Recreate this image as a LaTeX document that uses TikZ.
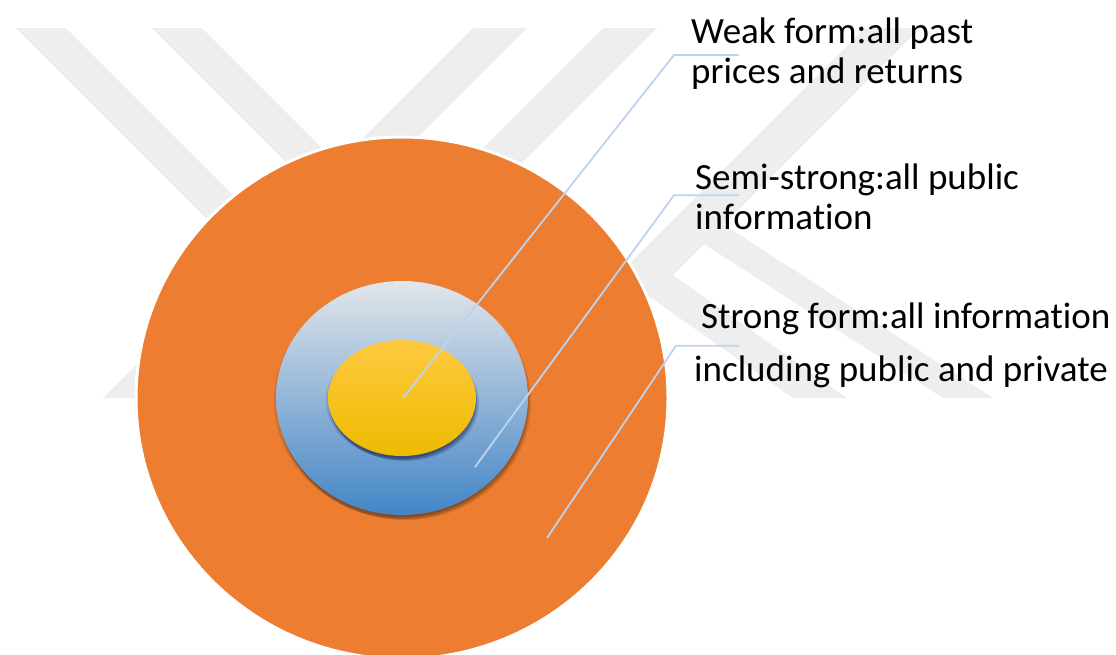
\documentclass[tikz,border=0pt]{standalone}
\usepackage{fontspec}
\setmainfont{Carlito}[Ligatures=NoCommon]
\usetikzlibrary{shadows, positioning}

\definecolor{wmgray}{HTML}{EEEEEE}
\definecolor{ringorange}{HTML}{ED7D31}
\definecolor{leadblue}{HTML}{BDD3EE}
\tikzset{
  wmband/.style = {fill=wmgray, draw=none},
  leader/.style = {leadblue, line width=1.8pt},
  label/.style  = {align=left, inner sep=0pt, anchor=north west, font=\fontsize{37}{40}\selectfont},
  softshadow/.style = {
    drop shadow={shadow xshift=0pt, shadow yshift=-2pt, opacity=.12, fill=#1},
    drop shadow={shadow xshift=3pt, shadow yshift=-5pt, opacity=.15, fill=#1},
    drop shadow={shadow xshift=1pt, shadow yshift=-4pt, opacity=.25, fill=#1},
    drop shadow={shadow xshift=-2pt, shadow yshift=-3pt, opacity=.12, fill=#1}},
}

\begin{document}
\begin{tikzpicture}[x=1pt, y=-1pt]
        \useasboundingbox (0,0) rectangle (1116,654);
        \clip (0,0) rectangle (1116,654);
%        \draw[lightgray, very thin] (0,0) grid[step=50] (1116,654); %网格
        % watermark
        \fill[wmband] (16,28) -- (66,28) -- (436,398) -- (386,398) -- cycle;
        \fill[wmband] (152,28) -- (202,28) -- (572,398) -- (522,398) -- cycle;
        \fill[wmband] (473,28) -- (527,28) -- (157,398) -- (103,398) -- cycle;
        \fill[wmband] (603,28) -- (657,28) -- (287,398) -- (233,398) -- cycle;
        \fill[wmband] (865,28) -- (920,28) -- (550,398) -- (495,398) -- cycle;
        \fill[wmband] (690,203) -- (993,398) -- (943,398) -- (690,235) -- cycle; % F
        \fill[wmband] (673,275) -- (847,398) -- (793,398) -- (640,290) -- cycle; % G
        % rings
        \fill[ringorange, draw=white, line width=3pt] (402,398) ellipse [x radius=266, y radius=261];
        \path[softshadow=black!75!brown,
              top color={rgb,255:red,227;green,230;blue,234}, middle color={rgb,255:red,88;green,153;blue,214},
              bottom color={rgb,255:red,66;green,133;blue,198}]
              (402,398) ellipse [x radius=126, y radius=117];
        \path[softshadow=black!80!blue,
              top color={rgb,255:red,255;green,201;blue,64}, middle color={rgb,255:red,255;green,195;blue,0},
              bottom color={rgb,255:red,237;green,187;blue,0}]
              (402,398) ellipse [x radius=74, y radius=58];
        % labels
        \node[label] (weak)   at (691,18)  {Weak form:all past\\prices and returns};
        \node[label] (semi)   at (695,164) {Semi-strong:all public\\information};
        \node[label] (strong) at (694,303) {\hspace*{7pt}Strong form:all information\\[13pt]including public and private};
        \coordinate (weakpt)   at (403,398);
        \coordinate (semipt)   at (475,467);
        \coordinate (strongpt) at (547,538);
        \draw[leader] (weakpt) -- ([xshift=-17pt,yshift=-1pt]weak.west) -- ([xshift=48pt,yshift=-1pt]weak.west);
        \draw[leader] (semipt) -- ([xshift=-21pt,yshift=2pt]semi.west) -- ([xshift=44pt,yshift=2pt]semi.west);
        \draw[leader] (strongpt) -- ([xshift=-18pt]strong.west) -- ([xshift=45pt]strong.west);
\end{tikzpicture}
\end{document}
